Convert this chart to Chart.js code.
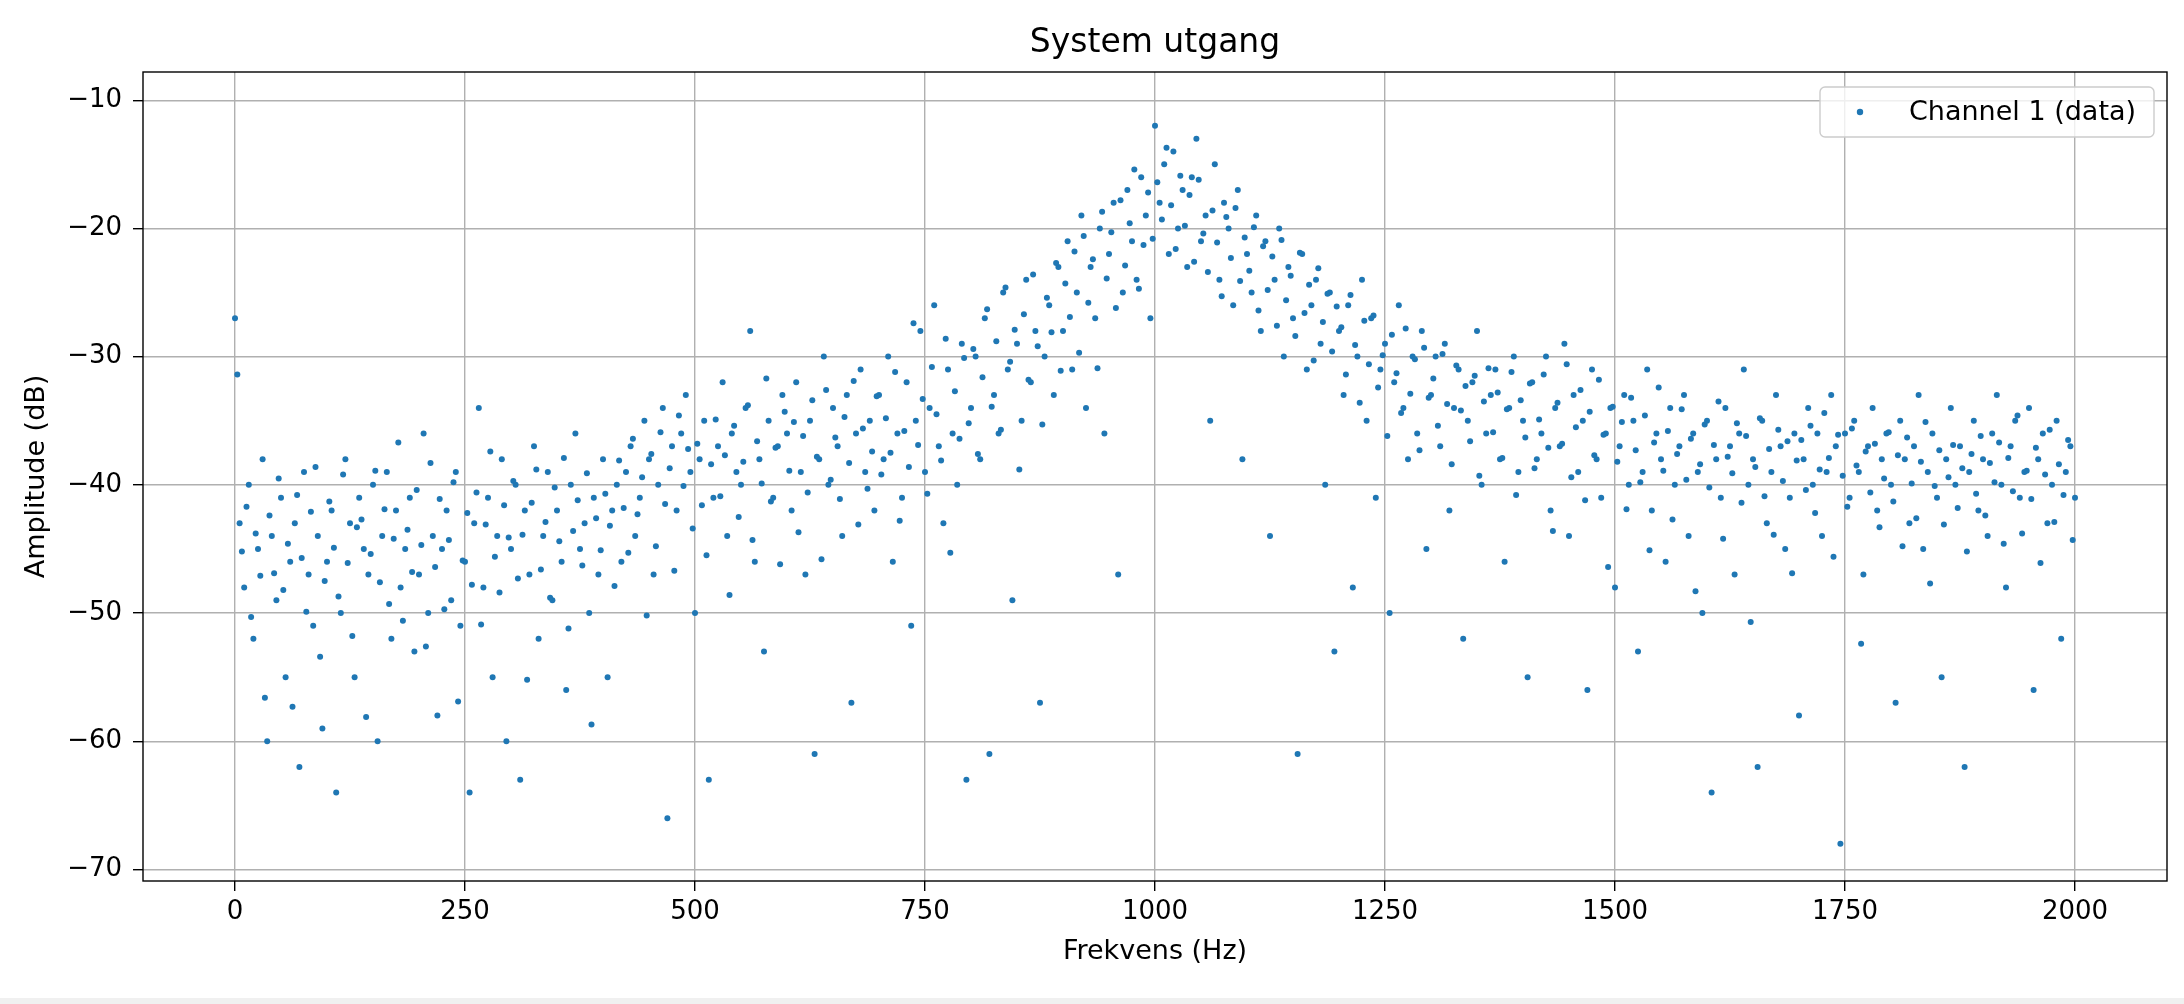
<!DOCTYPE html>
<html><head><meta charset="utf-8">
<script src="https://cdn.jsdelivr.net/npm/chart.js@4"></script>
<style>
html,body{margin:0;padding:0;background:#f0f0f0;}
#wrap{width:2184px;height:998px;background:#fff;}
</style></head>
<body><div id="wrap"><canvas id="c" width="2184" height="998"></canvas></div>
<script>
// spectrum samples, 5 Hz apart
const freqStep = 5;
const amplitude = [
-27,-43,-48,-40,-52,-45,-38,-60,-44,-49,-41,-55,-46,-43,-62,-39,-47,-51,-44,-59,
-46,-42,-64,-50,-38,-43,-55,-41,-45,-47,-40,-60,-44,-39,-52,-42,-48,-45,-41,-53,
-47,-36,-50,-44,-58,-45,-42,-49,-39,-51,-46,-64,-43,-34,-48,-41,-55,-44,-38,-60,
-45,-40,-63,-42,-47,-37,-52,-44,-39,-49,-42,-46,-56,-40,-36,-45,-43,-50,-41,-47,
-38,-55,-42,-40,-46,-39,-37,-44,-41,-35,-38,-47,-40,-34,-66,-37,-42,-36,-33,-39,
-50,-38,-35,-63,-41,-37,-32,-44,-36,-39,-40,-34,-28,-46,-38,-53,-35,-41,-37,-33,
-36,-42,-32,-39,-47,-35,-61,-38,-30,-40,-34,-37,-44,-33,-57,-36,-31,-39,-35,-42,
-33,-38,-30,-46,-36,-41,-32,-51,-35,-28,-39,-34,-26,-37,-43,-31,-36,-40,-29,-63,
-34,-30,-38,-27,-61,-33,-36,-25,-31,-49,-29,-35,-24,-32,-28,-57,-30,-26,-33,-23,
-28,-21,-31,-25,-19,-34,-23,-27,-20,-36,-22,-18,-47,-25,-17,-21,-24,-16,-19,-27,
-12,-18,-15,-22,-14,-20,-17,-23,-16,-13,-21,-19,-35,-15,-24,-18,-20,-26,-17,-38,
-22,-25,-19,-28,-21,-44,-24,-20,-30,-23,-27,-61,-22,-31,-26,-24,-29,-40,-25,-53,
-28,-33,-26,-48,-30,-24,-35,-27,-41,-31,-29,-50,-32,-26,-34,-38,-30,-36,-28,-45,
-33,-30,-37,-29,-42,-34,-31,-52,-35,-32,-28,-40,-36,-33,-31,-38,-46,-34,-30,-39,
-35,-55,-32,-38,-36,-30,-42,-34,-37,-29,-44,-33,-39,-35,-56,-31,-38,-41,-36,-34,
-48,-37,-33,-40,-35,-53,-39,-31,-42,-36,-38,-46,-34,-40,-37,-33,-44,-36,-39,-50,
-35,-64,-38,-41,-34,-37,-47,-36,-31,-40,-38,-62,-35,-43,-39,-33,-37,-45,-41,-36,
-58,-38,-34,-40,-36,-44,-39,-33,-37,-68,-36,-41,-35,-39,-47,-37,-34,-42,-38,-36,
-40,-57,-35,-38,-43,-37,-33,-45,-39,-36,-41,-55,-38,-34,-40,-37,-62,-39,-35,-42,
-38,-44,-36,-33,-40,-48,-37,-35,-41,-39,-34,-56,-38,-36,-43,-40,-35,-52,-39,-37,
-41
];
// in-between samples, offset by half a step
const amplitudeMid = [
-31.4,-45.2,-41.7,-50.3,-43.8,-47.1,-56.6,-42.4,-46.9,-39.5,-48.2,-44.6,-57.3,-40.8,-45.7,-49.9,-42.1,-38.6,-53.4,-47.5,
-41.3,-44.9,-48.7,-39.2,-46.1,-51.8,-43.3,-42.7,-58.1,-45.4,-38.9,-47.6,-41.9,-49.3,-44.2,-36.7,-50.6,-43.5,-46.8,-40.4,
-44.7,-52.6,-38.3,-46.4,-41.1,-49.7,-44.3,-39.8,-56.9,-45.9,-42.2,-47.8,-40.6,-50.9,-43.1,-37.4,-45.6,-48.4,-41.6,-44.1,
-39.7,-47.3,-43.9,-55.2,-41.4,-38.8,-46.6,-42.9,-48.8,-40.2,-44.4,-37.9,-51.2,-43.6,-41.2,-46.3,-39.1,-58.7,-42.6,-45.1,
-40.7,-43.2,-47.9,-38.1,-41.8,-45.3,-36.4,-42.3,-39.4,-50.2,-37.6,-44.8,-35.9,-41.5,-38.7,-46.7,-34.6,-40.1,-37.2,-43.4,
-36.8,-41.6,-45.5,-38.4,-34.9,-40.9,-37.7,-48.6,-35.4,-42.5,-38.2,-33.8,-44.3,-36.6,-39.9,-31.7,-41.3,-37.1,-46.2,-34.3,
-38.9,-35.1,-43.7,-36.2,-40.6,-33.4,-37.8,-45.8,-32.6,-39.6,-36.3,-41.1,-34.7,-38.3,-31.9,-43.1,-35.6,-40.3,-37.4,-33.1,
-39.2,-34.8,-37.5,-31.2,-42.8,-35.8,-38.6,-27.4,-36.9,-33.3,-40.7,-30.8,-34.5,-38.1,-28.6,-45.3,-32.7,-36.4,-30.1,-35.2,
-29.4,-37.6,-31.6,-26.3,-33.9,-28.8,-35.7,-24.6,-30.4,-27.9,-38.8,-26.7,-31.8,-23.6,-29.2,-35.3,-25.4,-28.1,-22.7,-31.1,
-24.3,-26.9,-21.8,-29.7,-20.6,-25.8,-22.4,-30.9,-18.7,-23.9,-20.3,-26.2,-17.8,-22.9,-19.6,-15.4,-24.7,-21.3,-17.2,-20.8,
-16.4,-19.3,-13.7,-18.2,-21.6,-15.9,-19.8,-17.4,-22.6,-16.2,-20.4,-23.4,-18.6,-21.1,-25.3,-19.1,-22.3,-18.4,-24.1,-20.7,
-23.3,-19.9,-26.4,-21.4,-24.8,-22.2,-27.6,-20.9,-25.6,-23.7,-28.4,-21.9,-26.6,-24.4,-30.3,-23.1,-27.3,-25.1,-29.6,-26.1,
-27.7,-31.4,-25.2,-29.1,-33.6,-27.2,-30.6,-26.8,-32.4,-29.9,-36.2,-28.3,-31.3,-34.4,-27.8,-32.9,-30.2,-37.3,-29.3,-33.2,
-31.7,-35.4,-29.8,-33.7,-38.4,-30.7,-34.2,-32.3,-36.6,-31.5,-39.3,-33.5,-30.9,-35.9,-32.8,-37.9,-34.1,-31.2,-40.8,-33.4,
-36.3,-32.1,-38.7,-34.9,-31.4,-37.1,-43.6,-33.6,-36.8,-30.6,-39.4,-35.5,-32.6,-41.2,-34.3,-37.7,-31.8,-36.1,-46.4,-33.9,
-38.2,-35.1,-41.9,-33.2,-37.3,-39.8,-34.6,-45.1,-36.7,-32.4,-38.9,-35.8,-42.7,-37.6,-34.1,-39.6,-36.4,-48.3,-38.4,-35.3,
-40.2,-36.9,-33.5,-44.2,-37.8,-39.1,-35.2,-41.4,-36.2,-50.7,-38.6,-34.8,-40.9,-37.2,-43.9,-35.7,-39.7,-36.6,-46.9,-38.1,
-36.5,-40.4,-35.4,-42.2,-38.8,-34.4,-37.9,-45.6,-36.1,-39.3,-41.7,-35.6,-38.5,-52.4,-37.4,-40.6,-36.8,-43.3,-39.5,-35.9,
-41.3,-37.7,-44.8,-36.3,-39.9,-42.6,-38.2,-35.1,-47.7,-40.1,-37.3,-43.1,-39.4,-36.9,-41.8,-38.7,-45.2,-37.6,-40.7,-36.2,
-42.4,-38.3,-39.8,-36.7,-44.6,-37.9,-40.5,-34.6,-43.8,-38.9,-41.1,-37.1,-46.1,-39.2,-35.7,-42.9,-38.4,-40.8,-36.5,-44.3
];
const xTicks = [0,250,500,750,1000,1250,1500,1750,2000];
const yTicks = [-70,-60,-50,-40,-30,-20,-10];
const seriesName = "Channel 1 (data)";

const pts = amplitude.map((v, i) => ({x: i * freqStep, y: v}))
  .concat(amplitudeMid.map((v, i) => ({x: i * freqStep + freqStep / 2, y: v})));
const blue = "#1f77b4";

// frame, title and legend box like matplotlib
const decor = {
  id: "decor",
  afterDraw(chart) {
    const ctx = chart.ctx, a = chart.chartArea;
    ctx.save();
    ctx.strokeStyle = "#000"; ctx.lineWidth = 1.4;
    ctx.strokeRect(a.left, a.top, a.right - a.left, a.bottom - a.top);
    ctx.fillStyle = "#000";
    ctx.font = "33px 'DejaVu Sans'";
    ctx.textAlign = "center"; ctx.textBaseline = "middle";
    ctx.fillText("System utgang", (a.left + a.right) / 2, 43);
    // legend
    const w = 334, h = 50, x = a.right - w - 13, y = a.top + 15;
    ctx.fillStyle = "rgba(255,255,255,0.8)";
    ctx.strokeStyle = "#cccccc"; ctx.lineWidth = 1.4;
    ctx.beginPath(); ctx.roundRect(x, y, w, h, 5); ctx.fill(); ctx.stroke();
    ctx.fillStyle = blue;
    ctx.beginPath(); ctx.arc(x + 40, y + h / 2, 3.2, 0, Math.PI * 2); ctx.fill();
    ctx.fillStyle = "#000"; ctx.textAlign = "left";
    ctx.font = "27px 'DejaVu Sans'";
    ctx.fillText(seriesName, x + 89, y + h / 2 + 1);
    ctx.restore();
  }
};

new Chart(document.getElementById("c"), {
  type: "scatter",
  data: { datasets: [{ label: seriesName, data: pts, backgroundColor: blue, borderWidth: 0, pointRadius: 3 }] },
  plugins: [decor],
  options: {
    responsive: false, animation: false,
    layout: { padding: { top: 72, right: 17, left: 21, bottom: 0 } },
    plugins: { legend: { display: false }, tooltip: { enabled: false } },
    scales: {
      x: {
        type: "linear", min: -100, max: 2100,
        afterBuildTicks: s => { s.ticks = xTicks.map(v => ({value: v})); },
        afterFit: s => { s.height = 117; },
        grid: { color: "#b0b0b0", lineWidth: 1.4, tickLength: 10, tickColor: "#000" },
        border: { display: false },
        ticks: { color: "#000", font: { size: 26, family: "DejaVu Sans" }, padding: 6, callback: v => String(v) },
        title: { display: true, text: "Frekvens (Hz)", color: "#000", font: { size: 27, family: "DejaVu Sans" }, padding: { top: 8, bottom: 30 } }
      },
      y: {
        min: -70.9, max: -7.8,
        afterBuildTicks: s => { s.ticks = yTicks.map(v => ({value: v})); },
        afterFit: s => { s.width = 122; },
        grid: { color: "#b0b0b0", lineWidth: 1.4, tickLength: 10, tickColor: "#000" },
        border: { display: false },
        ticks: { color: "#000", font: { size: 26, family: "DejaVu Sans" }, padding: 11, callback: v => String(v).replace("-", "\u2212") },
        title: { display: true, text: "Amplitude (dB)", color: "#000", font: { size: 27, family: "DejaVu Sans" }, padding: 0 }
      }
    }
  }
});
</script></body></html>
